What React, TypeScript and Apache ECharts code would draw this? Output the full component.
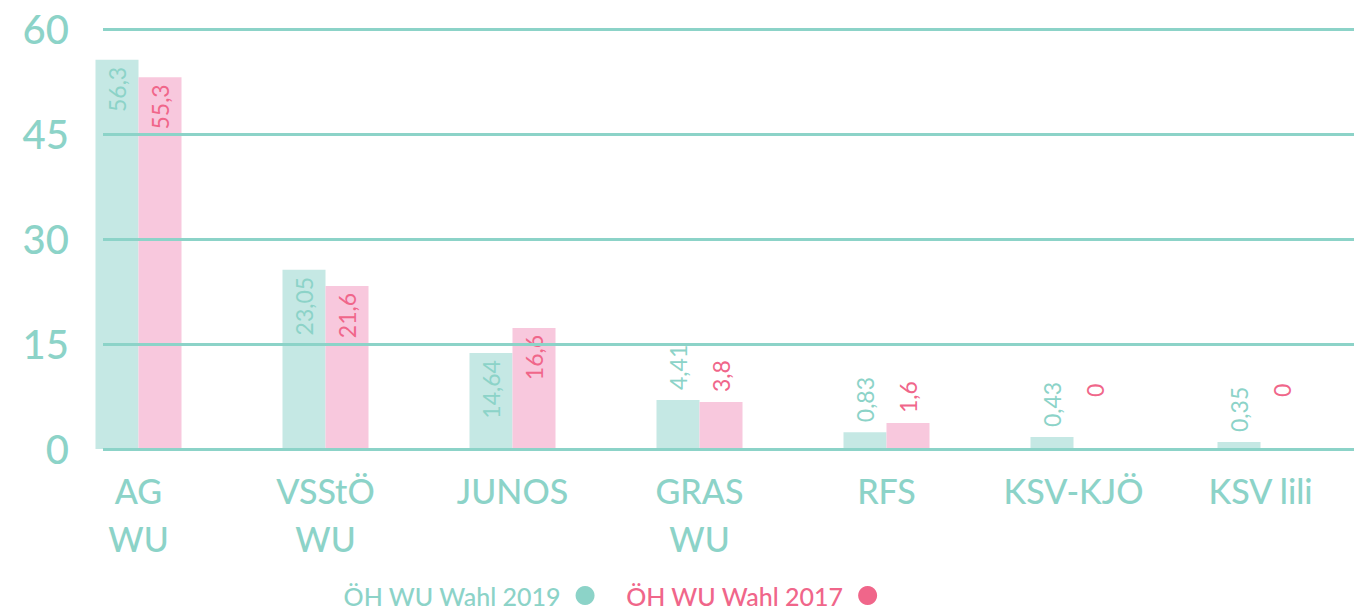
import React, { useEffect, useRef } from "react";
import * as echarts from "echarts";

const categories = ["AG\nWU", "VSStÖ\nWU", "JUNOS", "GRAS\nWU", "RFS", "KSV-KJÖ", "KSV lili"];
const seriesNames = ["ÖH WU Wahl 2019", "ÖH WU Wahl 2017"];
// bar heights as drawn in the picture (axis units)
const bars2019 = [55.6, 25.6, 13.7, 7.0, 2.4, 1.7, 1.0];
const bars2017 = [53.1, 23.3, 17.3, 6.7, 3.7, 0, 0];
// value labels printed on the bars
const labels2019 = ["56,3", "23,05", "14,64", "4,41", "0,83", "0,43", "0,35"];
const labels2017 = ["55,3", "21,6", "16,6", "3,8", "1,6", "0", "0"];
const yTicks = [0, 15, 30, 45, 60];

const TEAL = "#8cd3c8";
const TEAL_BAR = "#c5e8e4";
const PINK = "#f0668a";
const PINK_BAR = "#f8c8dd";
const FONT = "Lato, 'Open Sans', sans-serif";

function buildData(values: number[], texts: string[], color: string) {
  return values.map((v, i) => {
    const inside = v > 10;
    return {
      value: v,
      label: {
        show: true,
        position: inside ? "insideTop" : "top",
        rotate: 90,
        align: inside ? "right" : "left",
        verticalAlign: "middle",
        distance: inside ? 7 : v === 0 ? 52 : 10,
        color,
        fontFamily: FONT,
        fontSize: 23,
        formatter: () => texts[i],
      },
    };
  });
}

export default function App() {
  const ref = useRef<HTMLDivElement>(null);
  useEffect(() => {
    if (!ref.current) return;
    const chart = echarts.init(ref.current, null, { renderer: "svg" });
    const yMin = yTicks[0];
    const yMax = yTicks[yTicks.length - 1];
    const yStep = yTicks[1] - yTicks[0];
    chart.setOption({
      animation: false,
      textStyle: { fontFamily: FONT },
      grid: [
        { left: 103, right: 0, top: 29, bottom: 164 },
        { left: 45, right: -12, top: 29, bottom: 164 },
      ],
      legend: {
        left: 343,
        top: 583,
        padding: 0,
        align: "right",
        icon: "circle",
        itemWidth: 19,
        itemHeight: 24,
        itemGap: 31,
        textStyle: {
          fontSize: 25,
          lineHeight: 25,
          padding: [0, 10, 0, 0],
          fontFamily: FONT,
          fontWeight: 500,
        },
        data: [
          { name: seriesNames[0], textStyle: { color: TEAL }, itemStyle: { color: TEAL } },
          { name: seriesNames[1], textStyle: { color: PINK }, itemStyle: { color: PINK } },
        ],
      },
      xAxis: [
        { type: "value", gridIndex: 0, show: false, min: 0, max: 1 },
        {
          type: "category",
          gridIndex: 1,
          data: categories,
          axisLine: { show: false },
          axisTick: { show: false },
          axisLabel: {
            interval: 0,
            color: TEAL,
            fontSize: 34,
            fontWeight: 500,
            lineHeight: 48,
            margin: 17,
            fontFamily: FONT,
          },
        },
      ],
      yAxis: [
        {
          type: "value",
          gridIndex: 0,
          min: yMin,
          max: yMax,
          interval: yStep,
          z: 5,
          axisLine: { show: false },
          axisTick: { show: false },
          splitLine: { lineStyle: { color: TEAL, width: 3 } },
          axisLabel: { color: TEAL, fontSize: 40, fontWeight: 500, margin: 34, fontFamily: FONT },
        },
        { type: "value", gridIndex: 1, min: yMin, max: yMax, show: false, splitLine: { show: false } },
      ],
      series: [
        {
          name: seriesNames[0],
          type: "bar",
          xAxisIndex: 1,
          yAxisIndex: 1,
          barWidth: 43,
          barGap: "0%",
          itemStyle: { color: TEAL_BAR },
          data: buildData(bars2019, labels2019, TEAL),
        },
        {
          name: seriesNames[1],
          type: "bar",
          xAxisIndex: 1,
          yAxisIndex: 1,
          barWidth: 43,
          barGap: "0%",
          itemStyle: { color: PINK_BAR },
          data: buildData(bars2017, labels2017, PINK),
        },
      ],
    });
    return () => chart.dispose();
  }, []);
  return (
    <div
      ref={ref}
      style={{ position: "fixed", left: 0, top: 0, width: 1354, height: 613, background: "#fff" }}
    />
  );
}
